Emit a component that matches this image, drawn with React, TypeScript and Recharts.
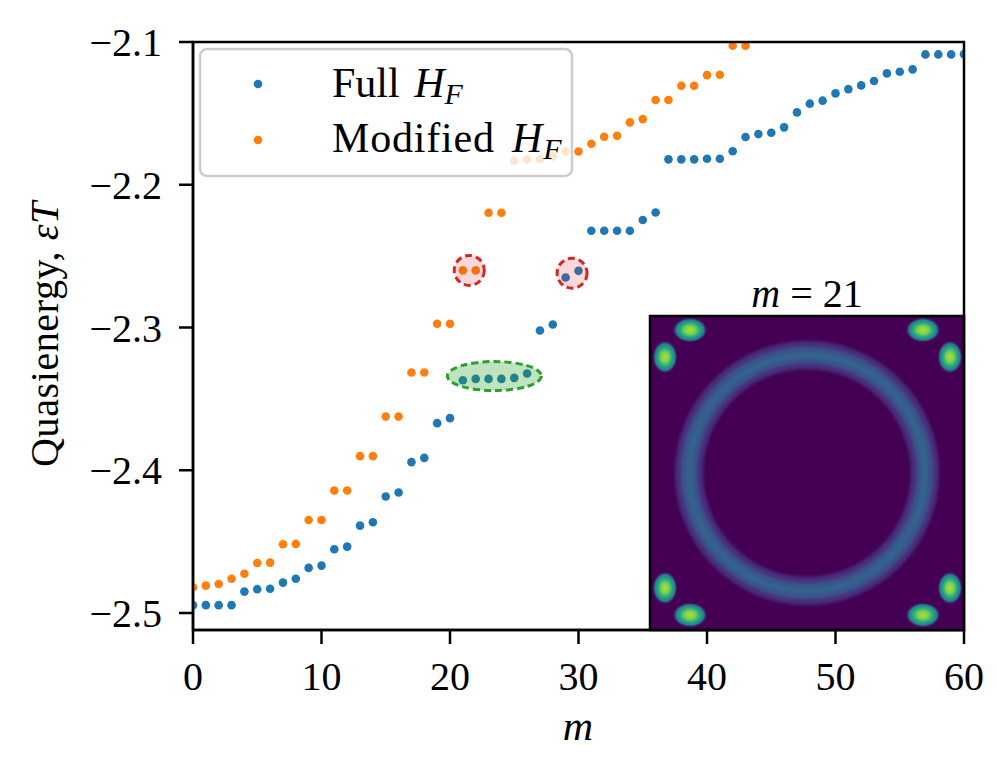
import { Scatter, ScatterChart, XAxis, YAxis } from "recharts";

const FONT = "'Liberation Serif', 'DejaVu Serif', serif";

// m index for each series
const fullM = [
  0, 1, 2, 3, 4, 5, 6, 7, 8, 9, 10, 11, 12, 13, 14, 15, 16, 17, 18, 19, 20,
  21, 22, 23, 24, 25, 26, 27, 28, 29, 30, 31, 32, 33, 34, 35, 36, 37, 38, 39,
  40, 41, 42, 43, 44, 45, 46, 47, 48, 49, 50, 51, 52, 53, 54, 55, 56, 57, 58,
  59, 60,
];
const fullHF = [
  -2.4945, -2.4945, -2.4945, -2.4945, -2.485, -2.4833, -2.483, -2.4787,
  -2.476, -2.4684, -2.4668, -2.4553, -2.4535, -2.4388, -2.4364, -2.4184,
  -2.4156, -2.3943, -2.3913, -2.367, -2.3635, -2.3369, -2.336, -2.336,
  -2.336, -2.3353, -2.3322, -2.3021, -2.2979, -2.265, -2.2603, -2.2322,
  -2.2322, -2.2322, -2.2322, -2.2247, -2.2194, -2.1822, -2.1822, -2.1822,
  -2.1818, -2.1818, -2.1765, -2.1666, -2.1645, -2.1636, -2.1598, -2.1493,
  -2.1432, -2.1411, -2.136, -2.133, -2.1304, -2.1273, -2.122, -2.1208,
  -2.1192, -2.1087, -2.1087, -2.1087, -2.1085,
];

const modifiedM = [
  0, 1, 2, 3, 4, 5, 6, 7, 8, 9, 10, 11, 12, 13, 14, 15, 16, 17, 18, 19, 20,
  21, 22, 23, 24, 25, 26, 27, 28, 29, 30, 31, 32, 33, 34, 35, 36, 37, 38, 39,
  40, 41, 42, 43,
];
const modifiedHF = [
  -2.482, -2.4808, -2.4797, -2.476, -2.4725, -2.465, -2.4647, -2.4518,
  -2.4516, -2.4348, -2.4348, -2.4142, -2.4142, -2.3901, -2.3901, -2.3624,
  -2.3624, -2.3315, -2.3315, -2.2974, -2.2974, -2.26, -2.26, -2.2196,
  -2.2196, -2.1832, -2.1823, -2.1823, -2.1801, -2.1767, -2.1767, -2.1713,
  -2.1664, -2.1657, -2.1563, -2.154, -2.1406, -2.1406, -2.1306, -2.1306,
  -2.1232, -2.1229, -2.1026, -2.1026,
];

const xTicks = [0, 10, 20, 30, 40, 50, 60];
const yTicks = [-2.5, -2.4, -2.3, -2.2, -2.1];

// highlighted states
const redMarks = [
  { m: 21.5, e: -2.26 },
  { m: 29.5, e: -2.262 },
];
const greenMarks = [{ m: 23.45, e: -2.334 }];

const fullData = fullM.map((m, i) => ({ m, e: fullHF[i] }));
const modifiedData = modifiedM.map((m, i) => ({ m, e: modifiedHF[i] }));

const dot = (color: string) => (p: any) =>
  <circle cx={p.cx} cy={p.cy} r={4.3} fill={color} />;

const redRing = (p: any) => (
  <circle
    cx={p.cx}
    cy={p.cy}
    r={15}
    fill="#d62728"
    fillOpacity={0.18}
    stroke="#d62728"
    strokeWidth={3}
    strokeDasharray="7 4"
  />
);

const greenRing = (p: any) => (
  <ellipse
    cx={p.cx}
    cy={p.cy}
    rx={47}
    ry={14.5}
    fill="#2ca02c"
    fillOpacity={0.3}
    stroke="#2ca02c"
    strokeWidth={3}
    strokeDasharray="7 4"
  />
);

const fmt = (v: number) => (v < 0 ? "\u2212" : "") + Math.abs(v).toFixed(1);

// corner spots of the inset density plot
const spots = [
  { x: 690, y: 330, rx: 18, ry: 13 },
  { x: 665, y: 357, rx: 13, ry: 17 },
  { x: 923, y: 330, rx: 18, ry: 13 },
  { x: 950, y: 357, rx: 13, ry: 17 },
  { x: 665, y: 588, rx: 13, ry: 17 },
  { x: 690, y: 615, rx: 18, ry: 13 },
  { x: 950, y: 588, rx: 13, ry: 17 },
  { x: 923, y: 615, rx: 18, ry: 13 },
];

function Inset() {
  return (
    <g>
      <defs>
        <radialGradient id="spot">
          <stop offset="0%" stopColor="#b5de2b" />
          <stop offset="30%" stopColor="#7ad151" />
          <stop offset="55%" stopColor="#22a884" />
          <stop offset="78%" stopColor="#2a788e" />
          <stop offset="100%" stopColor="#440154" stopOpacity={0} />
        </radialGradient>
        <filter id="soft" x="-20%" y="-20%" width="140%" height="140%">
          <feGaussianBlur stdDeviation="1.5" />
        </filter>
        <clipPath id="insetClip">
          <rect x={650} y={316} width={314} height={314} />
        </clipPath>
      </defs>
      <g clipPath="url(#insetClip)">
        <rect x={650} y={316} width={314} height={314} fill="#440154" />
        <g filter="url(#soft)">
          <circle cx={807} cy={473} r={118} fill="none" stroke="#472d7b" strokeWidth={28} />
          <circle cx={807} cy={473} r={118} fill="none" stroke="#3b528b" strokeWidth={16} />
          <circle cx={807} cy={473} r={118} fill="none" stroke="#33638d" strokeWidth={6} />
        </g>
        {spots.map((s, i) => (
          <ellipse key={i} cx={s.x} cy={s.y} rx={s.rx} ry={s.ry} fill="url(#spot)" />
        ))}
      </g>
      <rect x={650} y={316} width={314} height={314} fill="none" stroke="#000" strokeWidth={2.5} />
      <text x={807} y={307} textAnchor="middle" fontSize={40} fontFamily={FONT}>
        <tspan fontStyle="italic">m</tspan>
        <tspan dx={10}>=</tspan>
        <tspan dx={10}>21</tspan>
      </text>
    </g>
  );
}

export default function App() {
  return (
    <div style={{ position: "absolute", left: 0, top: 0, width: 996, height: 776, background: "#fff" }}>
      <ScatterChart width={996} height={776} margin={{ top: 42, right: 32, bottom: 0, left: 0 }}>
        <XAxis
          type="number"
          dataKey="m"
          domain={[0, 60]}
          ticks={xTicks}
          height={146}
          tickSize={14}
          tickMargin={18}
          axisLine={{ stroke: "#000", strokeWidth: 2.5 }}
          tickLine={{ stroke: "#000", strokeWidth: 2.5 }}
          tick={{ fill: "#000", fontSize: 40, fontFamily: FONT }}
          allowDataOverflow
        />
        <YAxis
          type="number"
          dataKey="e"
          domain={[-2.5119, -2.1]}
          ticks={yTicks}
          width={193}
          tickSize={14}
          tickMargin={17}
          tickFormatter={fmt}
          axisLine={{ stroke: "#000", strokeWidth: 2.5 }}
          tickLine={{ stroke: "#000", strokeWidth: 2.5 }}
          tick={{ fill: "#000", fontSize: 40, fontFamily: FONT }}
          allowDataOverflow
        />
        <Scatter name="Full" data={fullData} shape={dot("#1f77b4")} isAnimationActive={false} />
        <Scatter name="Modified" data={modifiedData} shape={dot("#ff7f0e")} isAnimationActive={false} />
        <Scatter name="redMarks" data={redMarks} shape={redRing} isAnimationActive={false} />
        <Scatter name="greenMarks" data={greenMarks} shape={greenRing} isAnimationActive={false} />
      </ScatterChart>
      <svg width={996} height={776} style={{ position: "absolute", left: 0, top: 0, pointerEvents: "none" }}>
        <rect x={193} y={42} width={771} height={588} fill="none" stroke="#000" strokeWidth={2.5} />
        {/* legend */}
        <rect x={200} y={49} width={372} height={127} rx={7} fill="#fff" fillOpacity={0.8} stroke="#cccccc" strokeWidth={2.5} />
        <circle cx={258} cy={84} r={4.3} fill="#1f77b4" />
        <circle cx={258} cy={140} r={4.3} fill="#ff7f0e" />
        <text x={332} y={97} fontSize={42} fontFamily={FONT}>
          Full <tspan fontStyle="italic" dx={4}>H</tspan>
          <tspan fontStyle="italic" fontSize={30} dy={7}>F</tspan>
        </text>
        <text x={332} y={152} fontSize={42} fontFamily={FONT} letterSpacing={0.8}>
          Modified <tspan fontStyle="italic" dx={6}>H</tspan>
          <tspan fontStyle="italic" fontSize={30} dy={7}>F</tspan>
        </text>
        {/* axis titles */}
        <text x={578} y={740} textAnchor="middle" fontSize={42} fontFamily={FONT} fontStyle="italic">
          m
        </text>
        <text
          transform="translate(58,334) rotate(-90)"
          textAnchor="middle"
          fontSize={40}
          fontFamily={FONT}
          letterSpacing={0.6}
        >
          Quasienergy, <tspan fontStyle="italic">εT</tspan>
        </text>
        <Inset />
      </svg>
    </div>
  );
}
